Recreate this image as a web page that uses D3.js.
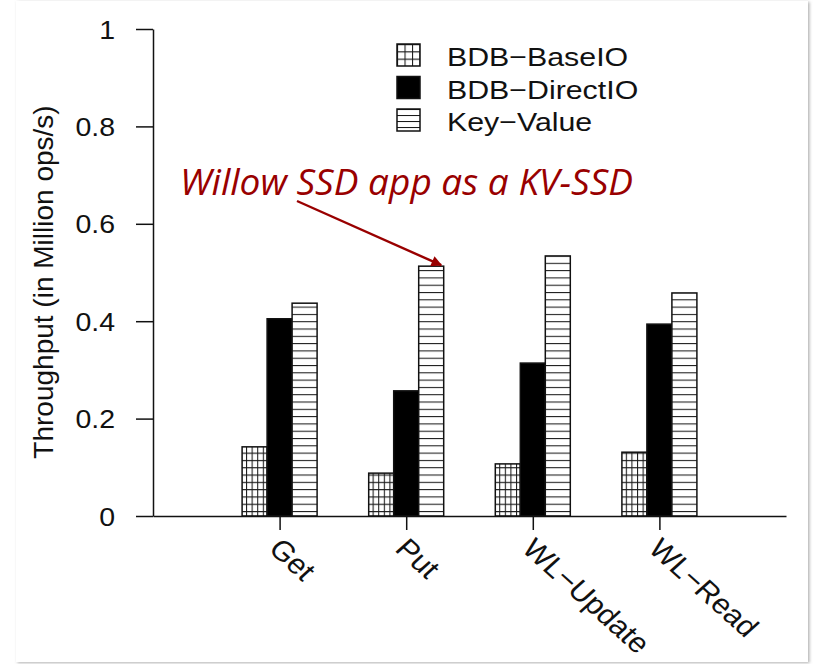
<!DOCTYPE html>
<html>
<head>
<meta charset="utf-8">
<script src="https://cdn.jsdelivr.net/npm/d3@7"></script>
<style>
  body { margin: 0; background: #fff; }
  svg text { font-family: "Liberation Sans", Arial, Helvetica, sans-serif; }
</style>
</head>
<body>
<svg id="chart" width="813" height="664"></svg>
<script>
// Throughput per workload for the three storage configurations
const categories = ["Get", "Put", "WL\u2212Update", "WL\u2212Read"];
const seriesNames = ["BDB\u2212BaseIO", "BDB\u2212DirectIO", "Key\u2212Value"];
const baseIO   = [0.142, 0.088, 0.107, 0.131];
const directIO = [0.405, 0.257, 0.314, 0.394];
const keyValue = [0.437, 0.513, 0.534, 0.458];
const yTicks = [0, 0.2, 0.4, 0.6, 0.8, 1];
const yTickLabels = ["0", "0.2", "0.4", "0.6", "0.8", "1"];
const yTitle = "Throughput (in Million ops/s)";
const calloutText = "Willow SSD app as a KV-SSD";

const seriesValues = [baseIO, directIO, keyValue];
const fills = ["url(#gridFill)", "#000", "url(#lineFill)"];
const legendFills = ["url(#gridFillSmall)", "#000", "url(#lineFillSmall)"];

const svg = d3.select("#chart");
const SX = 1.14;      // horizontal widening of the typeface

// card with soft shadow
const defs = svg.append("defs");
const shadow = defs.append("filter").attr("id", "cardShadow")
  .attr("x", "-5%").attr("y", "-5%").attr("width", "110%").attr("height", "110%");
shadow.append("feDropShadow").attr("dx", 1.5).attr("dy", 1).attr("stdDeviation", 1.8)
  .attr("flood-color", "#888").attr("flood-opacity", 0.65);

svg.append("rect").attr("x", 16).attr("y", 1).attr("width", 792).attr("height", 661)
  .attr("fill", "#fff").attr("filter", "url(#cardShadow)");

// fill patterns
function gridPattern(id, w, h) {
  const p = defs.append("pattern").attr("id", id).attr("patternUnits", "userSpaceOnUse")
    .attr("width", w).attr("height", h);
  p.append("rect").attr("width", w).attr("height", h).attr("fill", "#fff");
  p.append("path").attr("d", `M0.5,0V${h}M0,0.5H${w}`).attr("stroke", "#1a1a1a").attr("stroke-width", 1.1).attr("fill", "none");
}
function linePattern(id, h) {
  const p = defs.append("pattern").attr("id", id).attr("patternUnits", "userSpaceOnUse")
    .attr("width", 10).attr("height", h);
  p.append("rect").attr("width", 10).attr("height", h).attr("fill", "#fff");
  p.append("path").attr("d", `M0,0.5H10`).attr("stroke", "#1a1a1a").attr("stroke-width", 1.1).attr("fill", "none");
}
gridPattern("gridFill", 5.6, 7.3);
linePattern("lineFill", 7.3);
gridPattern("gridFillSmall", 7.5, 7.3);
linePattern("lineFillSmall", 6);

// scales
const y = d3.scaleLinear().domain([0, 1]).range([516, 29]);
const x = d3.scalePoint().domain(categories).range([153, 786]).padding(1);
const inner = d3.scaleBand().domain(seriesNames).range([-37.5, 37.5]);

// bars
const groups = svg.append("g").selectAll("g").data(categories).join("g")
  .attr("transform", d => `translate(${x(d)},0)`);
groups.selectAll("rect")
  .data((c, ci) => seriesNames.map((s, si) => ({ s, si, v: seriesValues[si][ci] })))
  .join("rect")
  .attr("x", d => inner(d.s))
  .attr("width", inner.bandwidth())
  .attr("y", d => y(d.v))
  .attr("height", d => y(0) - y(d.v))
  .attr("fill", d => fills[d.si])
  .attr("stroke", "#111")
  .attr("stroke-width", 1.5);

// y axis
const yAxis = svg.append("g").attr("transform", "translate(153,0)")
  .call(d3.axisLeft(y).tickValues(yTicks).tickFormat((d, i) => yTickLabels[i])
    .tickSize(17).tickSizeOuter(0));
yAxis.select(".domain").attr("stroke", "#111").attr("stroke-width", 1.5);
yAxis.selectAll(".tick line").attr("stroke", "#111").attr("stroke-width", 1.5);
yAxis.selectAll(".tick text")
  .attr("font-size", 25).attr("fill", "#111")
  .attr("x", -38 / SX).attr("dy", "0.36em")
  .attr("transform", `scale(${SX},1)`);

// x axis with slanted category labels
const xAxis = svg.append("g").attr("transform", "translate(0,516)")
  .call(d3.axisBottom(x).tickSize(14).tickSizeOuter(0).tickFormat(""));
xAxis.select(".domain").attr("stroke", "#111").attr("stroke-width", 1.5);
xAxis.selectAll(".tick line").attr("stroke", "#111").attr("stroke-width", 1.5);
xAxis.selectAll(".tick").append("g")
  .attr("transform", "translate(3,20) scale(1.11,1) rotate(45)")
  .append("text")
  .attr("text-anchor", "start")
  .attr("font-size", 28).attr("fill", "#111")
  .attr("dy", "0.72em")
  .text(d => d);

// y axis title
svg.append("g").attr("transform", "translate(53,282) rotate(-90)")
  .append("text").attr("text-anchor", "middle")
  .attr("font-size", 28).attr("fill", "#111")
  .text(yTitle);

// legend
const legend = svg.append("g").attr("transform", "translate(397,44)");
const rows = legend.selectAll("g").data(seriesNames).join("g")
  .attr("transform", (d, i) => `translate(0,${i * 32.5})`);
rows.append("rect").attr("width", 23).attr("height", 22)
  .attr("fill", (d, i) => legendFills[i]).attr("stroke", "#111").attr("stroke-width", 1.5);
rows.append("g").attr("transform", `translate(50,22) scale(${SX},1)`)
  .append("text").attr("font-size", 26.6).attr("fill", "#111").text(d => d);

// callout pointing at the Put / Key-Value bar
const RED = "#990000";
defs.append("marker").attr("id", "arrowHead").attr("viewBox", "0 0 10 10")
  .attr("refX", 9).attr("refY", 5).attr("markerWidth", 5.5).attr("markerHeight", 4.5)
  .attr("markerUnits", "strokeWidth").attr("orient", "auto")
  .append("path").attr("d", "M0,0L10,5L0,10Z").attr("fill", RED);

const tipX = x("Put") + inner("Key\u2212Value") + inner.bandwidth() * 0.9;
const tipY = y(keyValue[1]) - 1;
svg.append("line").attr("x1", 297).attr("y1", 201).attr("x2", tipX).attr("y2", tipY)
  .attr("stroke", RED).attr("stroke-width", 2.4).attr("marker-end", "url(#arrowHead)");

svg.append("text").attr("x", 180).attr("y", 195)
  .style("font-family", "'Open Sans', 'Noto Sans', sans-serif")
  .attr("font-style", "italic").attr("font-size", 37).attr("fill", RED)
  .text(calloutText);
</script>
</body>
</html>
